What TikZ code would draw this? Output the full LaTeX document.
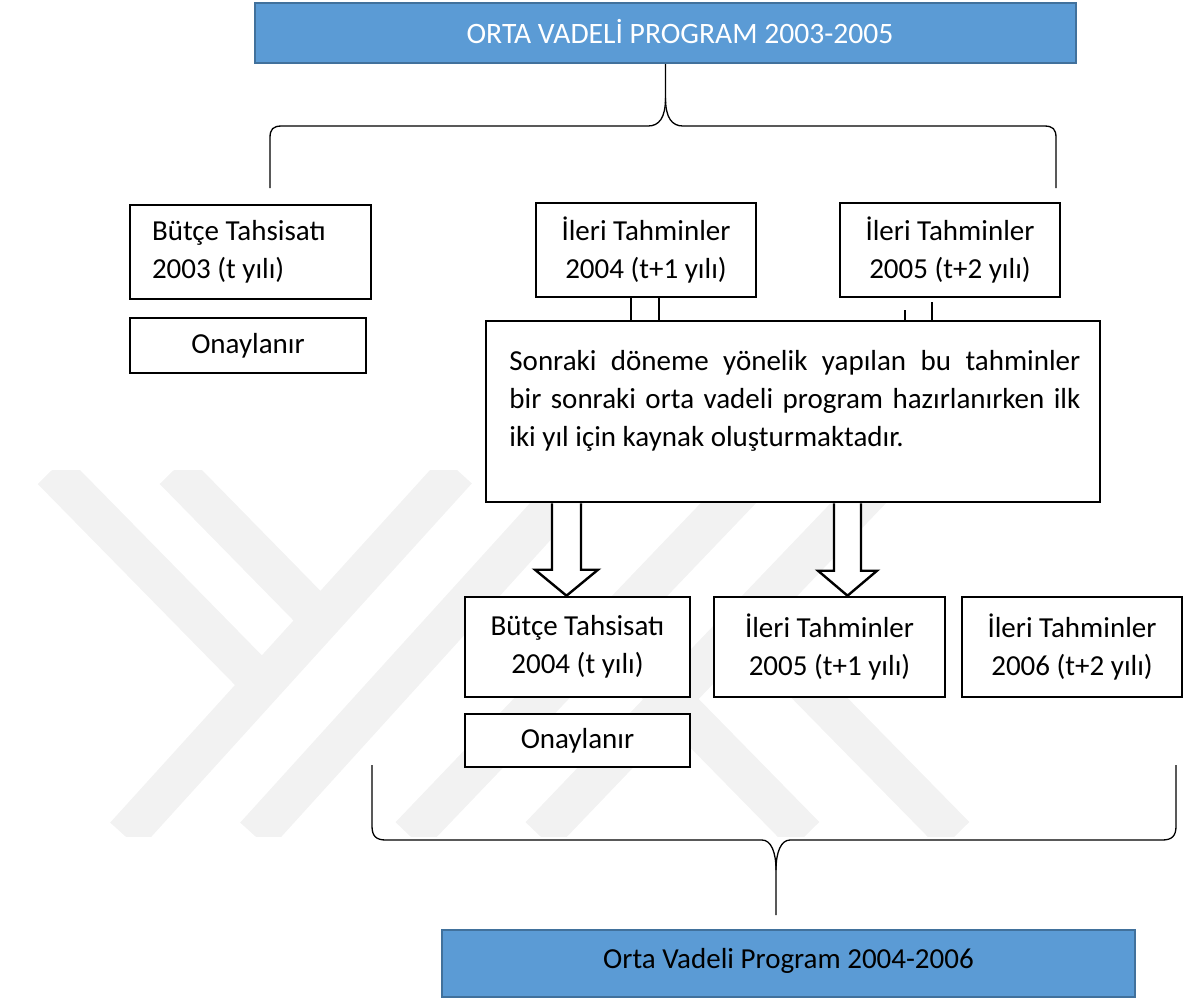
\documentclass[tikz,border=0pt]{standalone}
\usepackage{fontspec}
\setmainfont{Carlito}
\usetikzlibrary{calc}
\definecolor{ovpfill}{HTML}{5B9BD5}
\definecolor{ovpline}{HTML}{41719C}
\definecolor{wmark}{RGB}{242,242,242}
\newcommand{\bfnt}{\fontsize{14.5}{19}\selectfont}
\pgfdeclarelayer{wmk}
\pgfdeclarelayer{bg}
\pgfsetlayers{wmk,bg,main}
\begin{document}
\begin{tikzpicture}[x=0.5pt,y=-0.5pt,
  wbox/.style={draw=black, line width=1.3pt, fill=white, inner xsep=2pt, inner ysep=0pt, font=\bfnt, align=center},
  bluebox/.style={draw=ovpline, line width=1pt, fill=ovpfill, inner sep=0pt},
  lbl/.style={inner sep=0pt, font=\bfnt},
  brace/.style={draw=black, line width=0.65pt},
  stub/.style={draw=black, line width=0.75pt},
  blockarrow/.style={draw=black, line width=1.2pt, fill=white, line join=miter},
  wm/.style={draw=wmark, line width=20pt}]
\useasboundingbox (0,0) rectangle (1187,998);

% watermark
\begin{pgfonlayer}{wmk}
\begin{scope}
\clip (0,470) rectangle (1187,836);
\draw[wm] (52,470) -- (262,684);
\draw[wm] (174,470) -- (321,620);
\draw[wm] (125,836) -- (457,470);
\draw[wm] (255,836) -- (587,470);
\draw[wm] (410,836) -- (760,470);
\draw[wm] (540,836) -- (890,470);
\draw[wm] (605,632) -- (805,836);
\draw[wm] (745,622) -- (955,836);
\end{scope}
\end{pgfonlayer}

% top program box
\node[bluebox, minimum width=410.5pt, minimum height=30pt] (ovp1) at (665.5,33) {};
\node[lbl, text=white, anchor=base] (ovp1t) at (680,43.5) {\fontsize{14.8}{19}\selectfont ORTA VADELİ PROGRAM 2003-2005};

% first row
\node[wbox, minimum width=120.5pt, minimum height=47pt, text width=98.5pt, inner xsep=11pt, align=flush left] (b03) at (250.5,252) {Bütçe Tahsisatı\\2003 (t yılı)};
\node[wbox, minimum width=118pt, minimum height=27.5pt] (on03) at (248,345.5) {Onaylanır};
\node[wbox, minimum width=110pt, minimum height=47pt] (it04) at (646,250) {İleri Tahminler\\2004 (t+1 yılı)};
\node[wbox, minimum width=110pt, minimum height=47pt] (it05) at (950,250) {İleri Tahminler\\2005 (t+2 yılı)};

% explanation box
\node[wbox, minimum width=307pt, minimum height=90.5pt] (big) at (793,411.5) {};
\node[lbl, anchor=north west, text width=285.5pt, align=flush left] (bigt) at (509,350)
  {\makebox[\linewidth][s]{Sonraki döneme yönelik yapılan bu tahminler}\\\makebox[\linewidth][s]{bir sonraki orta vadeli program hazırlanırken ilk}\\iki yıl için kaynak oluşturmaktadır.};

% second row
\node[wbox, minimum width=112.5pt, minimum height=50pt] (b04) at (577.5,647) {Bütçe Tahsisatı\\2004 (t yılı)};
\node[wbox, minimum width=115.5pt, minimum height=50pt] (it05b) at (829.5,647) {İleri Tahminler\\2005 (t+1 yılı)};
\node[wbox, minimum width=110pt, minimum height=50pt] (it06) at (1072,647) {İleri Tahminler\\2006 (t+2 yılı)};
\node[wbox, minimum width=112.5pt, minimum height=26.5pt] (on04) at (577.5,740.5) {Onaylanır};

% bottom program box
\node[bluebox, minimum width=346.5pt, minimum height=33.5pt] (ovp2) at (788.5,963.5) {};
\node[lbl, anchor=base] (ovp2t) at (788.5,968) {Orta Vadeli Program 2004-2006};

% stubs between first row and explanation box
\draw[stub] ($(it04.south)+(-15,0)$) -- ($(big.north)+(-162,0)$);
\draw[stub] ($(it04.south)+(13,0)$) -- ($(big.north)+(-134,0)$);
\draw[stub] ($(it05.south)+(-45,12)$) -- ($(big.north)+(112,0)$);
\draw[stub] ($(it05.south)+(-18,4)$) -- ($(big.north)+(139,0)$);

% block arrows
\coordinate (a1) at ($(big.south)+(-226.5,0)$);
\coordinate (a1t) at ($(b04.north)+(-11,0)$);
\coordinate (a2) at ($(big.south)+(54.5,0)$);
\coordinate (a2t) at ($(it05b.north)+(18,0)$);
\begin{pgfonlayer}{bg}
\draw[blockarrow] ($(a1)+(-14.5,0)$) -- ($(a1t)+(-14.5,-26)$) -- ($(a1t)+(-31.5,-26)$) -- (a1t)
  -- ($(a1t)+(31.5,-26)$) -- ($(a1t)+(14.5,-26)$) -- ($(a1)+(14.5,0)$);
\draw[blockarrow] ($(a2)+(-13.5,0)$) -- ($(a2t)+(-13.5,-25)$) -- ($(a2t)+(-29.5,-25)$) -- (a2t)
  -- ($(a2t)+(29.5,-25)$) -- ($(a2t)+(13.5,-25)$) -- ($(a2)+(13.5,0)$);
\end{pgfonlayer}

% top brace
\coordinate (tcusp) at (665.5,98);
\draw[brace] (ovp1.south) -- (tcusp) .. controls (665.5,118) and (659,126) .. (648,126) -- (282,126)
  .. controls (273,126) and (270,129) .. (270,138) -- (270,188);
\draw[brace] (tcusp) .. controls (665.5,118) and (672,126) .. (683,126) -- (1044,126)
  .. controls (1053,126) and (1056,129) .. (1056,138) -- (1056,188);

% bottom brace
\coordinate (bcusp) at (776,915);
\coordinate (bsplit) at (776,870);
\draw[brace] (bcusp) -- (bsplit) .. controls (776,852) and (771,840) .. (762,840) -- (386,840)
  .. controls (376,840) and (372,836) .. (372,826) -- (372,765);
\draw[brace] (bsplit) .. controls (776,852) and (781,840) .. (790,840) -- (1162,840)
  .. controls (1172,840) and (1176,836) .. (1176,826) -- (1176,765);
\end{tikzpicture}
\end{document}
